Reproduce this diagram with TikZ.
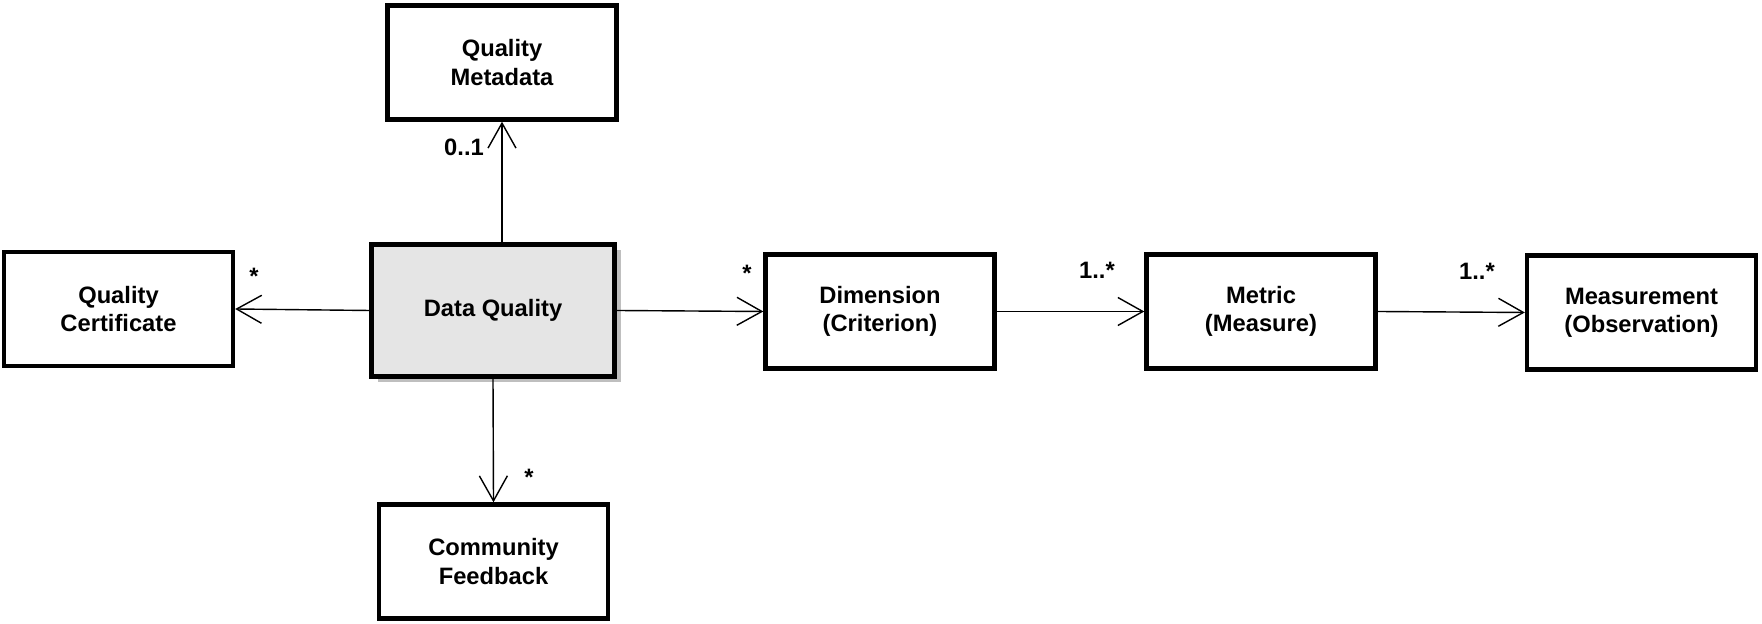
\documentclass[tikz,border=0pt]{standalone}
\usepackage{fontspec}
\setmainfont{Liberation Sans}
\usepackage{tikz}
\usetikzlibrary{arrows.meta,shadows}

\begin{document}
\begin{tikzpicture}[
        box/.style={draw, line width=2.5pt, minimum width=4.58cm, minimum height=2.28cm, align=center, font=\fontsize{13.5}{16}\selectfont\bfseries},
        assoc/.style={line width=0.8pt, -{Straight Barb[length=0.5cm, width=0.56cm]}},
        mult/.style={font=\fontsize{13.5}{16}\selectfont\bfseries, inner sep=0pt}]
            \useasboundingbox (0,0) rectangle (35.24,12.48);
            \node[box, fill=black!10, minimum width=4.86cm, minimum height=2.64cm, drop shadow={shadow xshift=0.12cm, shadow yshift=-0.12cm, fill=black!25, opacity=1}] (dq) at (9.86,6.27) {Data Quality};
            \node[box] (qm) at (10.04,11.23) {Quality\\Metadata};
            \node[box] (qc) at (2.37,6.30) {Quality\\Certificate};
            \node[box] (dim) at (17.60,6.25) {Dimension\\(Criterion)};
            \node[box] (met) at (25.22,6.25) {Metric\\(Measure)};
            \node[box] (meas) at (32.83,6.23) {Measurement\\(Observation)};
            \node[box] (cf) at (9.87,1.25) {Community\\Feedback};
            \draw[assoc] (qm.south |- dq.north) -- (qm.south);
            \draw[assoc] (dq.west) -- (qc.east);
            \draw[assoc] (dq.east) -- (dim.west);
            \draw[assoc] (dim.east) -- (met.west);
            \draw[assoc] (met.east) -- (meas.west);
            \draw[assoc] (dq.south) -- (cf.north);
            \node[mult] (mqm) at (9.28,9.54) {0..1};
            \node[mult] (mqc) at (5.08,6.95) {*};
            \node[mult] (mdim) at (14.94,7.02) {*};
            \node[mult] (mmet) at (21.94,7.08) {1..*};
            \node[mult] (mmeas) at (29.54,7.06) {1..*};
            \node[mult] (mcf) at (10.58,2.93) {*};
        \end{tikzpicture}
\end{document}
